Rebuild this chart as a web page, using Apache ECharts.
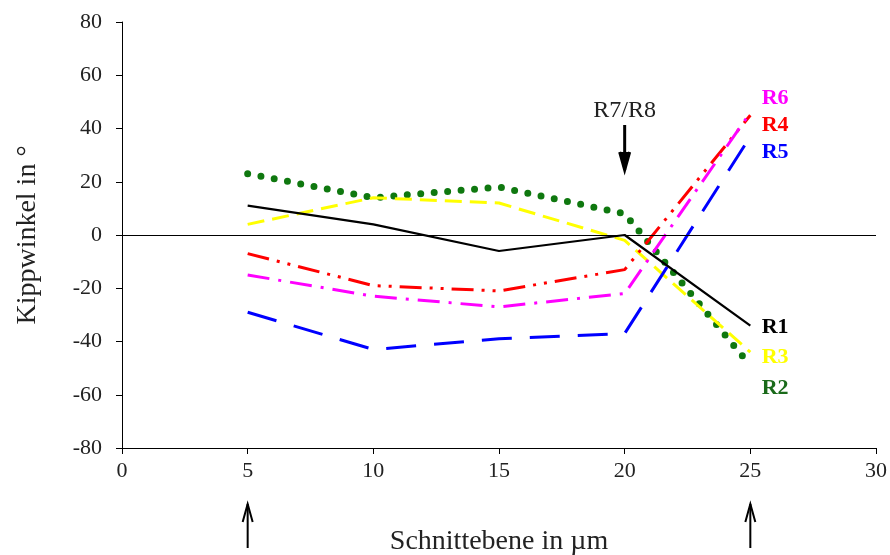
<!DOCTYPE html>
<html><head><meta charset="utf-8">
<script src="https://cdn.jsdelivr.net/npm/echarts@6/dist/echarts.min.js"></script>
<style>html,body{margin:0;padding:0;background:#fff}#c{width:890px;height:555px}</style>
</head><body><div id="c"></div>
<script>
const xValues = [5, 10, 15, 20, 25];
const R1 = [11, 4, -6, 0, -34];
const R2 = [23, 14, 18, 8, -49];
const R3 = [4, 14, 12, -2, -44];
const R4 = [-7, -19, -21, -13, 45];
const R5 = [-29, -43, -39, -37, 37];
const R6 = [-15, -23, -27, -22, 46];
const seriesNames = ['R1', 'R2', 'R3', 'R4', 'R5', 'R6'];
const labelY = {R6: 51.5, R4: 41.3, R5: 31.2, R1: -34.5, R3: -46, R2: -57.5};
const arrowXs = [5, 25];
const markX = 20;

const font = '"Liberation Serif", "DejaVu Serif", serif';
const colors = {R1:'#000000', R2:'#0f780f', R3:'#ffff00', R4:'#ff0000', R5:'#0000ff', R6:'#ff00ff'};
const labelColors = {R1:'#000000', R2:'#1a6a1a', R3:'#ffff00', R4:'#ff0000', R5:'#0000ff', R6:'#ff00ff'};
const styles = {
  R1: {width: 2.2, type: 'solid'},
  R2: {width: 7, type: [0, 13.5], cap: 'round'},
  R3: {width: 3, type: [17, 8]},
  R4: {width: 3, type: [22, 8, 3, 8, 3, 8]},
  R5: {width: 3, type: [30, 18]},
  R6: {width: 3, type: [22, 9, 3, 9]}
};
const dataMap = {R1, R2, R3, R4, R5, R6};

const chart = echarts.init(document.getElementById('c'));
const series = seriesNames.map(n => ({
  name: n, type: 'line', symbol: 'none', clip: false,
  data: xValues.map((x, i) => [x, dataMap[n][i]]),
  lineStyle: {color: colors[n], width: styles[n].width, type: styles[n].type, cap: styles[n].cap || 'butt'},
  z: n === 'R1' ? 5 : 3
}));
series.push({
  type: 'line', data: [], symbol: 'none',
  markLine: {silent: true, symbol: 'none', label: {show: false},
    lineStyle: {color: '#000', width: 1, type: 'solid'},
    data: [[{coord: [0, 0]}, {coord: [30, 0]}]]}
});
chart.setOption({
  animation: false,
  grid: {left: 122, right: 14, top: 22, bottom: 107, containLabel: false, outerBoundsMode: 'none'},
  xAxis: {type: 'value', min: 0, max: 30, interval: 5,
    name: 'Schnittebene in µm', nameLocation: 'middle', nameGap: 80,
    nameTextStyle: {fontFamily: font, fontSize: 28, color: '#222'},
    axisLine: {onZero: false, lineStyle: {color: '#000', width: 1}},
    axisTick: {length: 6, lineStyle: {color: '#000'}},
    axisLabel: {fontFamily: font, fontSize: 22, color: '#222', margin: 12},
    splitLine: {show: false}},
  yAxis: {type: 'value', min: -80, max: 80, interval: 20,
    name: 'Kippwinkel in °', nameLocation: 'middle', nameGap: 80,
    nameTextStyle: {fontFamily: font, fontSize: 28, color: '#222'},
    axisLine: {show: true, lineStyle: {color: '#000', width: 1}},
    axisTick: {show: true, length: 6, lineStyle: {color: '#000'}},
    axisLabel: {fontFamily: font, fontSize: 22, color: '#222', margin: 20},
    splitLine: {show: false}},
  series
});

function px(x, y) { return chart.convertToPixel({xAxisIndex: 0, yAxisIndex: 0}, [x, y]); }
const graphics = [];
seriesNames.forEach(n => {
  const p = px(25.45, labelY[n]);
  graphics.push({type: 'text', x: p[0], y: p[1], style: {text: n, fill: labelColors[n],
    font: 'bold 22px ' + font, textVerticalAlign: 'middle', textAlign: 'left'}});
});
function arrow(x, y1, y2, up) {
  const h = up ? 1 : -1;
  graphics.push({type: 'line', shape: {x1: x, y1: y1, x2: x, y2: y2}, style: {stroke: '#000', lineWidth: up ? 2 : 3}});
  graphics.push({type: 'polyline', shape: {points: [[x - 5, y2 + h * 18], [x, y2], [x + 5, y2 + h * 18]]},
    style: {stroke: '#000', lineWidth: up ? 2 : 3, fill: up ? null : '#000'}});
}
arrowXs.forEach(v => { const p = px(v, -80); arrow(p[0], p[1] + 100, p[1] + 56, true); });
const pm = px(markX, 0);
arrow(pm[0], pm[1] - 110, pm[1] - 65, false);
graphics.push({type: 'text', x: pm[0], y: pm[1] - 124, style: {text: 'R7/R8', fill: '#222',
  font: '24px ' + font, textAlign: 'center', textVerticalAlign: 'middle'}});
chart.setOption({graphic: graphics});
</script></body></html>
